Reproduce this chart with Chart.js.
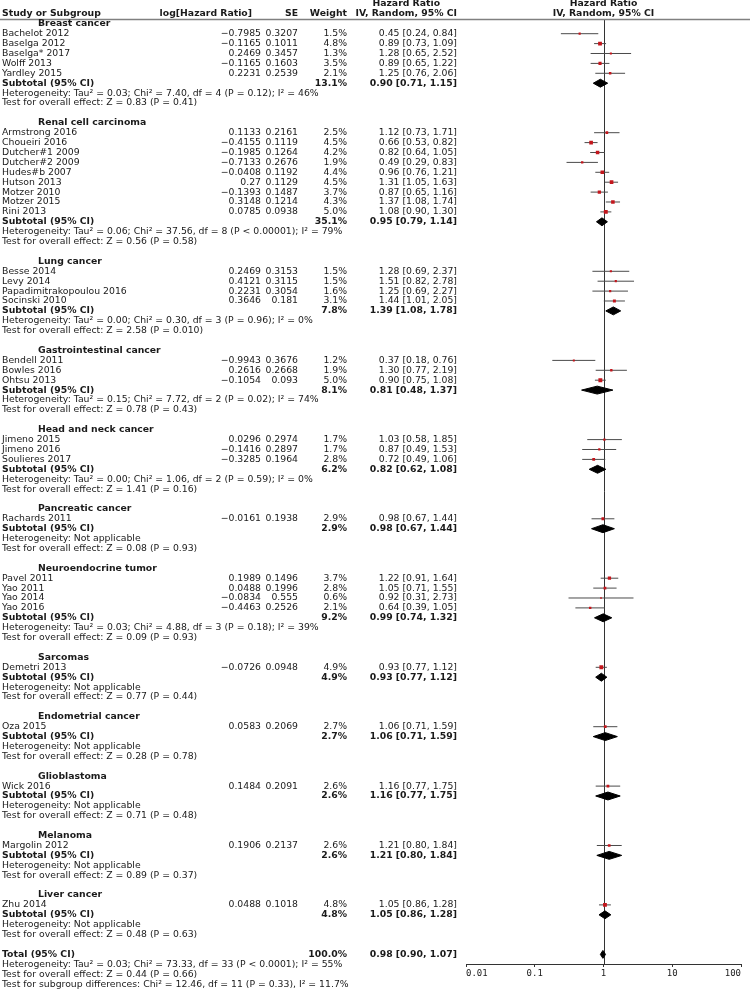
<!DOCTYPE html>
<html lang="en">
<head>
<meta charset="UTF-8">
<title>Hazard Ratio forest plot</title>
<script src="https://cdn.jsdelivr.net/npm/chart.js"></script>
<style>
  body { margin: 0; background: #fff; }
</style>
</head>
<body>
<canvas id="forestChart" width="750" height="989"></canvas>

<script>
// ---- data ----
const groupNames = ['Breast cancer', 'Renal cell carcinoma', 'Lung cancer', 'Gastrointestinal cancer',
    'Head and neck cancer', 'Pancreatic cancer', 'Neuroendocrine tumor', 'Sarcomas',
    'Endometrial cancer', 'Glioblastoma', 'Melanoma', 'Liver cancer'];
const groupSizes = [5, 9, 4, 3, 3, 1, 4, 1, 1, 1, 1, 1];

const studyNames = ['Bachelot 2012', 'Baselga 2012', 'Baselga* 2017', 'Wolff 2013', 'Yardley 2015',
    'Armstrong 2016', 'Choueiri 2016', 'Dutcher#1 2009', 'Dutcher#2 2009', 'Hudes#b 2007', 'Hutson 2013',
    'Motzer 2010', 'Motzer 2015', 'Rini 2013',
    'Besse 2014', 'Levy 2014', 'Papadimitrakopoulou 2016', 'Socinski 2010',
    'Bendell 2011', 'Bowles 2016', 'Ohtsu 2013',
    'Jimeno 2015', 'Jimeno 2016', 'Soulieres 2017',
    'Rachards 2011',
    'Pavel 2011', 'Yao 2011', 'Yao 2014', 'Yao 2016',
    'Demetri 2013', 'Oza 2015', 'Wick 2016', 'Margolin 2012', 'Zhu 2014'];
const logHR = [-0.7985, -0.1165, 0.2469, -0.1165, 0.2231,
    0.1133, -0.4155, -0.1985, -0.7133, -0.0408, 0.27, -0.1393, 0.3148, 0.0785,
    0.2469, 0.4121, 0.2231, 0.3646,
    -0.9943, 0.2616, -0.1054,
    0.0296, -0.1416, -0.3285,
    -0.0161,
    0.1989, 0.0488, -0.0834, -0.4463,
    -0.0726, 0.0583, 0.1484, 0.1906, 0.0488];
const stdErr = [0.3207, 0.1011, 0.3457, 0.1603, 0.2539,
    0.2161, 0.1119, 0.1264, 0.2676, 0.1192, 0.1129, 0.1487, 0.1214, 0.0938,
    0.3153, 0.3115, 0.3054, 0.181,
    0.3676, 0.2668, 0.093,
    0.2974, 0.2897, 0.1964,
    0.1938,
    0.1496, 0.1996, 0.555, 0.2526,
    0.0948, 0.2069, 0.2091, 0.2137, 0.1018];
const weights = [1.5, 4.8, 1.3, 3.5, 2.1,
    2.5, 4.5, 4.2, 1.9, 4.4, 4.5, 3.7, 4.3, 5.0,
    1.5, 1.5, 1.6, 3.1,
    1.2, 1.9, 5.0,
    1.7, 1.7, 2.8,
    2.9,
    3.7, 2.8, 0.6, 2.1,
    4.9, 2.7, 2.6, 2.6, 4.8];
const hazardRatio = [0.45, 0.89, 1.28, 0.89, 1.25,
    1.12, 0.66, 0.82, 0.49, 0.96, 1.31, 0.87, 1.37, 1.08,
    1.28, 1.51, 1.25, 1.44,
    0.37, 1.30, 0.90,
    1.03, 0.87, 0.72,
    0.98,
    1.22, 1.05, 0.92, 0.64,
    0.93, 1.06, 1.16, 1.21, 1.05];
const ciLower = [0.24, 0.73, 0.65, 0.65, 0.76,
    0.73, 0.53, 0.64, 0.29, 0.76, 1.05, 0.65, 1.08, 0.90,
    0.69, 0.82, 0.69, 1.01,
    0.18, 0.77, 0.75,
    0.58, 0.49, 0.49,
    0.67,
    0.91, 0.71, 0.31, 0.39,
    0.77, 0.71, 0.77, 0.80, 0.86];
const ciUpper = [0.84, 1.09, 2.52, 1.22, 2.06,
    1.71, 0.82, 1.05, 0.83, 1.21, 1.63, 1.16, 1.74, 1.30,
    2.37, 2.78, 2.27, 2.05,
    0.76, 2.19, 1.08,
    1.85, 1.53, 1.06,
    1.44,
    1.64, 1.55, 2.73, 1.05,
    1.12, 1.59, 1.75, 1.84, 1.28];

const subWeights = [13.1, 35.1, 7.8, 8.1, 6.2, 2.9, 9.2, 4.9, 2.7, 2.6, 2.6, 4.8];
const subHR = [0.90, 0.95, 1.39, 0.81, 0.82, 0.98, 0.99, 0.93, 1.06, 1.16, 1.21, 1.05];
const subLower = [0.71, 0.79, 1.08, 0.48, 0.62, 0.67, 0.74, 0.77, 0.71, 0.77, 0.80, 0.86];
const subUpper = [1.15, 1.14, 1.78, 1.37, 1.08, 1.44, 1.32, 1.12, 1.59, 1.75, 1.84, 1.28];
const heterogeneity = [
    'Heterogeneity: Tau² = 0.03; Chi² = 7.40, df = 4 (P = 0.12); I² = 46%',
    'Heterogeneity: Tau² = 0.06; Chi² = 37.56, df = 8 (P < 0.00001); I² = 79%',
    'Heterogeneity: Tau² = 0.00; Chi² = 0.30, df = 3 (P = 0.96); I² = 0%',
    'Heterogeneity: Tau² = 0.15; Chi² = 7.72, df = 2 (P = 0.02); I² = 74%',
    'Heterogeneity: Tau² = 0.00; Chi² = 1.06, df = 2 (P = 0.59); I² = 0%',
    'Heterogeneity: Not applicable',
    'Heterogeneity: Tau² = 0.03; Chi² = 4.88, df = 3 (P = 0.18); I² = 39%',
    'Heterogeneity: Not applicable',
    'Heterogeneity: Not applicable',
    'Heterogeneity: Not applicable',
    'Heterogeneity: Not applicable',
    'Heterogeneity: Not applicable'];
const overallTests = [
    'Test for overall effect: Z = 0.83 (P = 0.41)',
    'Test for overall effect: Z = 0.56 (P = 0.58)',
    'Test for overall effect: Z = 2.58 (P = 0.010)',
    'Test for overall effect: Z = 0.78 (P = 0.43)',
    'Test for overall effect: Z = 1.41 (P = 0.16)',
    'Test for overall effect: Z = 0.08 (P = 0.93)',
    'Test for overall effect: Z = 0.09 (P = 0.93)',
    'Test for overall effect: Z = 0.77 (P = 0.44)',
    'Test for overall effect: Z = 0.28 (P = 0.78)',
    'Test for overall effect: Z = 0.71 (P = 0.48)',
    'Test for overall effect: Z = 0.89 (P = 0.37)',
    'Test for overall effect: Z = 0.48 (P = 0.63)'];

const totalWeight = 100.0;
const totalHR = 0.98;
const totalLower = 0.90;
const totalUpper = 1.07;
const totalNotes = [
    'Heterogeneity: Tau² = 0.03; Chi² = 73.33, df = 33 (P < 0.0001); I² = 55%',
    'Test for overall effect: Z = 0.44 (P = 0.66)',
    'Test for subgroup differences: Chi² = 12.46, df = 11 (P = 0.33), I² = 11.7%'];

const axisTicks = [0.01, 0.1, 1, 10, 100];
const axisLabels = ['0.01', '0.1', '1', '10', '100'];

// ---- layout of the table rows ----
const FONT = '"DejaVu Sans"';
const FONT_SIZE = 9.3;
const TEXT_COLOR = '#1a1a1a';
const cols = { name: 2, group: 38, logHead: 252, logHR: 261, se: 298, weight: 347, ci: 457 };
const diamondHalf = 0.4;   // in row units

const studyRows = [];
const subRows = [];
const noteRows = [];
const groupRows = [];
let r = 0;
groupNames.forEach((g, gi) => {
    groupRows.push(r++);
    for (let k = 0; k < groupSizes[gi]; k++) studyRows.push(r++);
    subRows.push(r++);
    noteRows.push([r, heterogeneity[gi]]); r++;
    noteRows.push([r, overallTests[gi]]); r++;
    r++;
});
const totalRow = r;
totalNotes.forEach((t, i) => noteRows.push([totalRow + 1 + i, t]));

function fmtLog(v) { return String(v).replace('-', '\u2212'); }
function fmtCI(hr, lo, hi) { return hr.toFixed(2) + ' [' + lo.toFixed(2) + ', ' + hi.toFixed(2) + ']'; }

// ---- datasets ----
const ciPoints = [];
studyRows.forEach((row, i) => {
    ciPoints.push({ x: ciLower[i], y: row }, { x: ciUpper[i], y: row }, { x: ciUpper[i], y: null });
});

const datasets = [
    {
        label: 'Studies',
        data: studyRows.map((row, i) => ({ x: hazardRatio[i], y: row })),
        pointStyle: 'rect',
        pointRadius: weights.map(w => (1.4 + 0.5 * w) / 1.414),
        backgroundColor: '#c4161c',
        borderColor: '#c4161c',
        borderWidth: 0
    },
    {
        label: 'CI',
        data: ciPoints,
        showLine: true,
        spanGaps: false,
        pointRadius: 0,
        borderColor: '#4a4a4a',
        borderWidth: 1
    }
];

function diamond(row, hr, lo, hi) {
    return {
        data: [{ x: lo, y: row }, { x: hr, y: row - diamondHalf }, { x: hi, y: row },
               { x: hr, y: row + diamondHalf }, { x: lo, y: row }],
        showLine: true,
        fill: 'shape',
        pointRadius: 0,
        borderColor: '#000',
        backgroundColor: '#000',
        borderWidth: 1,
        tension: 0
    };
}
subRows.forEach((row, gi) => datasets.push(diamond(row, subHR[gi], subLower[gi], subUpper[gi])));
datasets.push(diamond(totalRow, totalHR, totalLower, totalUpper));

// ---- plugins ----
const refLine = {
    id: 'refLine',
    beforeDatasetsDraw(chart) {
        const { ctx, chartArea, scales } = chart;
        const x1 = Math.round(scales.x.getPixelForValue(1)) + 0.5;
        ctx.save();
        ctx.strokeStyle = '#333';
        ctx.lineWidth = 1;
        ctx.beginPath();
        ctx.moveTo(x1, chartArea.top);
        ctx.lineTo(x1, chartArea.bottom);
        ctx.stroke();
        ctx.strokeStyle = '#808080';
        ctx.lineWidth = 1.5;
        ctx.beginPath();
        ctx.moveTo(0, chartArea.top);
        ctx.lineTo(chart.width, chartArea.top);
        ctx.stroke();
        ctx.restore();
    }
};

const tableText = {
    id: 'tableText',
    afterDraw(chart) {
        const { ctx, scales } = chart;
        const y = v => scales.y.getPixelForValue(v);
        const reg = FONT_SIZE + 'px ' + FONT;
        const bold = 'bold ' + FONT_SIZE + 'px ' + FONT;
        function txt(s, x, row, align, font) {
            ctx.font = font || reg;
            ctx.textAlign = align || 'left';
            ctx.fillText(s, x, y(row));
        }
        ctx.save();
        ctx.fillStyle = TEXT_COLOR;
        ctx.textBaseline = 'middle';

        // header
        ctx.font = bold;
        const ivLabel = 'IV, Random, 95% CI';
        const ivW = ctx.measureText(ivLabel).width;
        txt('Hazard Ratio', cols.ci - ivW / 2, -2, 'center', bold);
        txt('Study or Subgroup', cols.name, -1, 'left', bold);
        txt('log[Hazard Ratio]', cols.logHead, -1, 'right', bold);
        txt('SE', cols.se, -1, 'right', bold);
        txt('Weight', cols.weight, -1, 'right', bold);
        txt(ivLabel, cols.ci, -1, 'right', bold);
        const xMid = scales.x.getPixelForValue(1);
        txt('Hazard Ratio', xMid, -2, 'center', bold);
        txt(ivLabel, xMid, -1, 'center', bold);

        groupRows.forEach((row, gi) => txt(groupNames[gi], cols.group, row, 'left', bold));
        studyRows.forEach((row, i) => {
            txt(studyNames[i], cols.name, row);
            txt(fmtLog(logHR[i]), cols.logHR, row, 'right');
            txt(String(stdErr[i]), cols.se, row, 'right');
            txt(weights[i].toFixed(1) + '%', cols.weight, row, 'right');
            txt(fmtCI(hazardRatio[i], ciLower[i], ciUpper[i]), cols.ci, row, 'right');
        });
        subRows.forEach((row, gi) => {
            txt('Subtotal (95% CI)', cols.name, row, 'left', bold);
            txt(subWeights[gi].toFixed(1) + '%', cols.weight, row, 'right', bold);
            txt(fmtCI(subHR[gi], subLower[gi], subUpper[gi]), cols.ci, row, 'right', bold);
        });
        noteRows.forEach(([row, s]) => txt(s, cols.name, row));

        txt('Total (95% CI)', cols.name, totalRow, 'left', bold);
        txt(totalWeight.toFixed(1) + '%', cols.weight, totalRow, 'right', bold);
        txt(fmtCI(totalHR, totalLower, totalUpper), cols.ci, totalRow, 'right', bold);
        ctx.restore();
    }
};

// ---- chart ----
const ctx = document.getElementById('forestChart').getContext('2d');
new Chart(ctx, {
    type: 'scatter',
    data: { datasets: datasets },
    options: {
        responsive: false,
        animation: false,
        events: [],
        layout: { padding: { left: 466, right: 9, top: 19.5, bottom: 0 } },
        plugins: {
            legend: { display: false },
            tooltip: { enabled: false }
        },
        scales: {
            x: {
                type: 'logarithmic',
                min: 0.01,
                max: 100,
                afterBuildTicks: scale => { scale.ticks = axisTicks.map(v => ({ value: v })); },
                afterFit: scale => { scale.height = 25; },
                ticks: {
                    align: 'inner',
                    autoSkip: false,
                    maxRotation: 0,
                    padding: 1,
                    color: '#222',
                    font: { family: 'DejaVu Sans Mono', size: 9 },
                    callback: (v, i) => axisLabels[i]
                },
                grid: { drawOnChartArea: false, tickLength: 3, color: '#333' },
                border: { color: '#333', width: 1 }
            },
            y: {
                display: false,
                reverse: true,
                min: -0.434,
                max: 94.97
            }
        }
    },
    plugins: [refLine, tableText]
});
</script>
</body>
</html>
